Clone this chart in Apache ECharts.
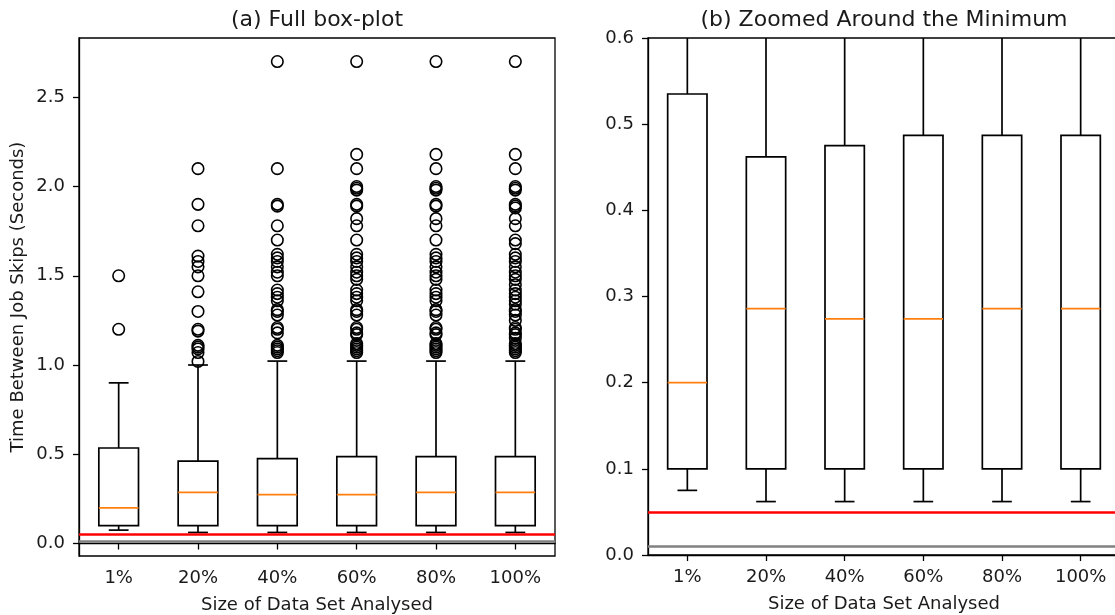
<!DOCTYPE html>
<html>
<head>
<meta charset="utf-8">
<script src="https://cdn.jsdelivr.net/npm/echarts@6/dist/echarts.min.js"></script>
<style>
html,body{margin:0;padding:0;background:#fff;}
#chart{width:1115px;height:615px;}
</style>
</head>
<body>
<div id="chart"></div>
<script>
// ---------- data ----------
const categories = ['1%', '20%', '40%', '60%', '80%', '100%'];
const whiskerLow  = [0.075, 0.062, 0.062, 0.062, 0.062, 0.062];
const quartile1   = [0.100, 0.100, 0.100, 0.100, 0.100, 0.100];
const medians     = [0.200, 0.286, 0.274, 0.274, 0.286, 0.286];
const quartile3   = [0.535, 0.462, 0.475, 0.487, 0.487, 0.487];
const whiskerHigh = [0.900, 1.000, 1.022, 1.022, 1.022, 1.022];

const outliers1   = [1.2, 1.5];
const outliers20  = [1.02, 1.07, 1.09, 1.10, 1.11, 1.19, 1.20, 1.30, 1.41, 1.50, 1.55, 1.58, 1.61, 1.78, 1.90, 2.10];
const outliers40  = [1.07, 1.08, 1.09, 1.10, 1.11, 1.18, 1.20, 1.21, 1.28, 1.30, 1.31, 1.36, 1.38, 1.40, 1.42, 1.50, 1.52, 1.55, 1.58, 1.60, 1.62, 1.70, 1.78, 1.89, 1.90, 2.10, 2.70];
const outliers60  = [1.07, 1.08, 1.09, 1.10, 1.11, 1.12, 1.17, 1.18, 1.20, 1.21, 1.28, 1.30, 1.31, 1.36, 1.38, 1.40, 1.42, 1.48, 1.50, 1.52, 1.55, 1.58, 1.60, 1.62, 1.70, 1.78, 1.82, 1.89, 1.90, 1.98, 1.99, 2.00, 2.10, 2.18, 2.70];
const outliers80  = [1.07, 1.08, 1.09, 1.10, 1.11, 1.12, 1.17, 1.18, 1.20, 1.21, 1.28, 1.30, 1.31, 1.36, 1.38, 1.40, 1.42, 1.48, 1.50, 1.52, 1.55, 1.58, 1.60, 1.62, 1.70, 1.78, 1.82, 1.89, 1.90, 1.98, 1.99, 2.00, 2.10, 2.18, 2.70];
const outliers100 = [1.07, 1.08, 1.09, 1.10, 1.11, 1.12, 1.15, 1.17, 1.18, 1.20, 1.21, 1.25, 1.28, 1.30, 1.31, 1.34, 1.36, 1.38, 1.40, 1.42, 1.45, 1.48, 1.50, 1.52, 1.55, 1.58, 1.60, 1.62, 1.68, 1.70, 1.78, 1.82, 1.88, 1.89, 1.90, 1.98, 1.99, 2.00, 2.10, 2.18, 2.70];

const redLineValue  = 0.05;
const grayLineValue = 0.012;

const leftTicks  = [0.0, 0.5, 1.0, 1.5, 2.0, 2.5];
const rightTicks = [0.0, 0.1, 0.2, 0.3, 0.4, 0.5, 0.6];

const titleLeft  = '(a) Full box-plot';
const titleRight = '(b) Zoomed Around the Minimum';
const xAxisName  = 'Size of Data Set Analysed';
const yAxisName  = 'Time Between Job Skips (Seconds)';

// ---------- build ----------
const FONT = 'DejaVu Sans';
const TXT = '#1a1a1a';
const FS = 18;

const boxData = categories.map((c, i) => [i, whiskerLow[i], quartile1[i], medians[i], quartile3[i], whiskerHigh[i]]);
const outlierLists = [outliers1, outliers20, outliers40, outliers60, outliers80, outliers100];
const outlierData = [];
outlierLists.forEach((arr, i) => arr.forEach(v => outlierData.push([i, v])));

function renderBox(params, api) {
  const x = api.value(0);
  const pLo = api.coord([x, api.value(1)]);
  const pQ1 = api.coord([x, api.value(2)]);
  const pMed = api.coord([x, api.value(3)]);
  const pQ3 = api.coord([x, api.value(4)]);
  const pHi = api.coord([x, api.value(5)]);
  const band = api.size([1, 0])[0];
  const bw = band * 0.5 / 2, cw = band * 0.25 / 2;
  const cx = pQ1[0];
  const stroke = { stroke: '#000', lineWidth: 1.7, fill: null };
  return {
    type: 'group',
    children: [
      { type: 'line', shape: { x1: cx, y1: pQ1[1], x2: cx, y2: pLo[1] }, style: stroke },
      { type: 'line', shape: { x1: cx, y1: pQ3[1], x2: cx, y2: pHi[1] }, style: stroke },
      { type: 'line', shape: { x1: cx - cw, y1: pLo[1], x2: cx + cw, y2: pLo[1] }, style: stroke },
      { type: 'line', shape: { x1: cx - cw, y1: pHi[1], x2: cx + cw, y2: pHi[1] }, style: stroke },
      { type: 'rect', shape: { x: cx - bw, y: pQ3[1], width: bw * 2, height: pQ1[1] - pQ3[1] }, style: { stroke: '#000', lineWidth: 1.7, fill: 'rgba(0,0,0,0)' } },
      { type: 'line', shape: { x1: cx - bw, y1: pMed[1], x2: cx + bw, y2: pMed[1] }, style: { stroke: '#ff7f0e', lineWidth: 1.8 } }
    ]
  };
}

function refLines() {
  return {
    silent: true,
    symbol: 'none',
    label: { show: false },
    animation: false,
    data: [
      { yAxis: grayLineValue, lineStyle: { color: '#808080', width: 2.5, type: 'solid' } },
      { yAxis: redLineValue, lineStyle: { color: '#ff0000', width: 2.5, type: 'solid' } }
    ]
  };
}

function xAxisCfg(gridIndex) {
  return {
    type: 'category', gridIndex, data: categories, boundaryGap: true,
    name: xAxisName, nameLocation: 'middle', nameGap: 40,
    nameTextStyle: { fontFamily: FONT, fontSize: FS, color: TXT },
    axisLine: { show: true, lineStyle: { color: '#000', width: 1.3 } },
    axisTick: { show: true, alignWithLabel: true, length: 6, lineStyle: { color: '#000', width: 1.3 } },
    axisLabel: { fontFamily: FONT, fontSize: FS, color: TXT, margin: 13 },
    splitLine: { show: false }
  };
}

const option = {
  animation: false,
  backgroundColor: '#fff',
  title: [
    { text: titleLeft, left: 317, top: 9, textAlign: 'center', padding: 0,
      textStyle: { fontFamily: FONT, fontSize: 22, fontWeight: 'normal', color: TXT } },
    { text: titleRight, left: 884, top: 9, textAlign: 'center', padding: 0,
      textStyle: { fontFamily: FONT, fontSize: 22, fontWeight: 'normal', color: TXT } }
  ],
  grid: [
    { left: 79, top: 38, width: 476, height: 518, show: true, borderColor: '#000', borderWidth: 1.3,
      backgroundColor: 'transparent', containLabel: false, outerBoundsMode: 'none' },
    { left: 648, top: 38, width: 472, height: 517, show: true, borderColor: '#000', borderWidth: 1.3,
      backgroundColor: 'transparent', containLabel: false, outerBoundsMode: 'none' }
  ],
  xAxis: [xAxisCfg(0), xAxisCfg(1)],
  yAxis: [
    {
      type: 'value', gridIndex: 0, min: -0.07, max: 2.832,
      name: yAxisName, nameLocation: 'middle', nameGap: 52, nameRotate: 90,
      nameTextStyle: { fontFamily: FONT, fontSize: FS, color: TXT },
      axisLine: { show: true, lineStyle: { color: '#000', width: 1.3 } },
      axisTick: { show: true, length: 6, customValues: leftTicks, lineStyle: { color: '#000', width: 1.3 } },
      axisLabel: { fontFamily: FONT, fontSize: FS, color: TXT, margin: 14, customValues: leftTicks, formatter: v => v.toFixed(1) },
      splitLine: { show: false }
    },
    {
      type: 'value', gridIndex: 1, min: 0, max: 0.6, interval: 0.1,
      axisLine: { show: true, lineStyle: { color: '#000', width: 1.3 } },
      axisTick: { show: true, length: 6, customValues: rightTicks, lineStyle: { color: '#000', width: 1.3 } },
      axisLabel: { fontFamily: FONT, fontSize: FS, color: TXT, margin: 14, customValues: rightTicks, formatter: v => v.toFixed(1) },
      splitLine: { show: false }
    }
  ],
  series: [
    { type: 'custom', xAxisIndex: 0, yAxisIndex: 0, data: boxData, renderItem: renderBox, clip: true,
      encode: { x: 0, y: [1, 2, 3, 4, 5] }, markLine: refLines(), z: 2 },
    { type: 'scatter', xAxisIndex: 0, yAxisIndex: 0, data: outlierData, symbol: 'circle', symbolSize: 11.5,
      itemStyle: { color: 'rgba(0,0,0,0)', borderColor: '#000', borderWidth: 1.6, opacity: 1 }, z: 3 },
    { type: 'custom', xAxisIndex: 1, yAxisIndex: 1, data: boxData, renderItem: renderBox, clip: true,
      encode: { x: 0, y: [1, 2, 3, 4, 5] }, markLine: refLines(), z: 2 }
  ]
};

const chart = echarts.init(document.getElementById('chart'), null, { renderer: 'canvas' });
chart.setOption(option);
</script>
</body>
</html>
